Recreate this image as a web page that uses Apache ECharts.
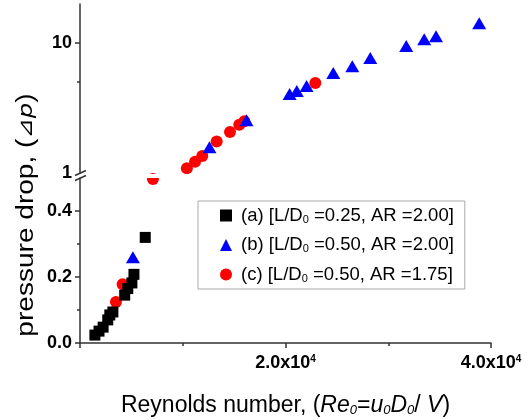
<!DOCTYPE html>
<html>
<head>
<meta charset="utf-8">
<script src="https://cdn.jsdelivr.net/npm/echarts@6/dist/echarts.min.js"></script>
<style>
  html, body { margin: 0; padding: 0; background: #ffffff; }
  #chart { width: 529px; height: 420px; }
</style>
</head>
<body>
<div id="chart"></div>
<script>
// Pressure drop vs Reynolds number for three orifice configurations
const reA = [1450, 1850, 2250, 2700, 2900, 3200, 4350, 4650, 5050, 5250, 6350];
const dpA = [0.024, 0.036, 0.048, 0.070, 0.085, 0.094, 0.145, 0.165, 0.182, 0.208, 0.320];

const reB = [5150, 12600, 16200, 20400, 21100, 22050, 24650, 26500, 28250, 31750, 33500, 34650, 38850];
const dpB = [0.26, 1.58, 2.55, 4.05, 4.27, 4.67, 5.88, 6.64, 7.67, 9.49, 10.7, 11.3, 14.2];

const reC = [3500, 4150, 7100, 10400, 11200, 11900, 13300, 14600, 15500, 16000, 22900];
const dpC = [0.124, 0.178, 0.497, 1.09, 1.22, 1.35, 1.75, 2.07, 2.35, 2.50, 4.93];

const seriesLabels = [
  '(a) [L/D{sub|0} =0.25, AR =2.00]',
  '(b) [L/D{sub|0} =0.50, AR =2.00]',
  '(c) [L/D{sub|0} =0.50, AR =1.75]'
];
const seriesSymbols = ['rect', 'triangle', 'circle'];
const seriesColors = ['#000000', '#0000ff', '#ff0000'];
const symbolSizes = [11, [14, 12], 12];

// Axis ranges and ticks: linear lower segment, log upper segment
const xRange = [0, 40000];
const xInterval = 20000;
const lowerRange = [0, 0.5];
const lowerTicks = [0, 0.2, 0.4];
const lowerMinorTicks = [0.1, 0.3];
const upperRange = [1, 20];
const upperLabels = [1, 10];
const upperTicks = [10];
const upperMinorTicks = [5];

const FONT = '"Liberation Sans", Arial, sans-serif';
const AXIS_COLOR = '#333333';

const seriesData = [
  reA.map((x, i) => [x, dpA[i]]),
  reB.map((x, i) => [x, dpB[i]]),
  reC.map((x, i) => [x, dpC[i]])
];

const chart = echarts.init(document.getElementById('chart'), null, { renderer: 'canvas' });

const axisLineStyle = { color: AXIS_COLOR, width: 1.5 };
const hiddenLine = { show: true, lineStyle: { color: AXIS_COLOR, width: 1.5, opacity: 0 } };

function yAxisBase(gridIndex, type, range) {
  return {
    gridIndex: gridIndex,
    type: type,
    position: 'left',
    offset: 0,
    min: range[0],
    max: range[1],
    splitLine: { show: false },
    minorSplitLine: { show: false }
  };
}

const tickLabelStyle = {
  fontFamily: FONT,
  fontSize: 18,
  fontWeight: 'bold',
  color: '#000000'
};

// Each segment has a main axis (line, major ticks, labels) and a companion axis for short minor ticks
const yAxes = [
  Object.assign(yAxisBase(0, 'value', lowerRange), {
    axisLine: { show: true, lineStyle: axisLineStyle },
    axisTick: { show: true, length: 5, customValues: lowerTicks, lineStyle: axisLineStyle },
    axisLabel: Object.assign({ customValues: lowerTicks, margin: 8,
      formatter: v => v.toFixed(1) }, tickLabelStyle)
  }),
  Object.assign(yAxisBase(0, 'value', lowerRange), {
    axisLine: hiddenLine,
    axisTick: { show: true, length: 3, customValues: lowerMinorTicks, lineStyle: axisLineStyle },
    axisLabel: { show: false }
  }),
  Object.assign(yAxisBase(1, 'log', upperRange), {
    logBase: 10,
    axisLine: { show: true, lineStyle: axisLineStyle },
    axisTick: { show: true, length: 5, customValues: upperTicks, lineStyle: axisLineStyle },
    axisLabel: Object.assign({ customValues: upperLabels, margin: 8,
      formatter: v => String(Math.round(v)) }, tickLabelStyle)
  }),
  Object.assign(yAxisBase(1, 'log', upperRange), {
    logBase: 10,
    axisLine: hiddenLine,
    axisTick: { show: true, length: 3, customValues: upperMinorTicks, lineStyle: axisLineStyle },
    axisLabel: { show: false }
  })
];

// Every series is drawn in both segments; each grid keeps only the points inside its range
const series = [];
seriesData.forEach((data, i) => {
  [[0, 0], [1, 2]].forEach(([xi, yi]) => {
    series.push({
      type: 'scatter',
      name: seriesLabels[i],
      xAxisIndex: xi,
      yAxisIndex: yi,
      data: data,
      clip: true,
      symbol: seriesSymbols[i],
      symbolSize: symbolSizes[i],
      itemStyle: { color: seriesColors[i], opacity: 1 },
      emphasis: { disabled: true },
      z: 3 - i
    });
  });
});

chart.setOption({
  animation: false,
  backgroundColor: '#ffffff',
  grid: [
    { left: 80, right: 38, top: 178, bottom: 77 },
    { left: 80, right: 38, top: 4, height: 169 }
  ],
  xAxis: [
    {
      gridIndex: 0,
      type: 'value',
      min: xRange[0],
      max: xRange[1],
      interval: xInterval,
      axisLine: { show: true, onZero: false, lineStyle: axisLineStyle },
      axisTick: { show: true, length: 5, lineStyle: axisLineStyle },
      minorTick: { show: true, splitNumber: 2, length: 3, lineStyle: axisLineStyle },
      splitLine: { show: false },
      minorSplitLine: { show: false },
      axisLabel: Object.assign({
        margin: 11,
        formatter: v => v === 0 ? '' : (v / 10000).toFixed(1) + 'x10{sup|4}',
        rich: {
          sup: { fontFamily: FONT, fontSize: 10, fontWeight: 'bold', color: '#000', verticalAlign: 'top' }
        }
      }, tickLabelStyle),
      name: 'Reynolds number, ({i|Re}{isub|0}={i|u}{isub|0}{i|D}{isub|0}/ {i|V})',
      nameLocation: 'middle',
      nameGap: 51,
      nameTextStyle: {
        fontFamily: FONT,
        fontSize: 23,
        color: '#000',
        rich: {
          i: { fontFamily: FONT, fontSize: 23, fontStyle: 'italic', color: '#000' },
          isub: { fontFamily: FONT, fontSize: 13, fontStyle: 'italic', color: '#000', verticalAlign: 'bottom' }
        }
      }
    },
    {
      gridIndex: 1,
      type: 'value',
      min: xRange[0],
      max: xRange[1],
      show: false
    }
  ],
  yAxis: yAxes,
  legend: {
    orient: 'vertical',
    left: 198,
    top: 201,
    padding: [5, 11, 5, 22],
    itemGap: 10.5,
    itemWidth: 12,
    itemHeight: 12,
    borderColor: '#aaaaaa',
    borderWidth: 1,
    backgroundColor: '#ffffff',
    data: seriesLabels.map((name, i) => ({ name: name, icon: seriesSymbols[i] })),
    selectedMode: false,
    textStyle: {
      fontFamily: FONT,
      fontSize: 18.5,
      color: '#000',
      padding: [0, 0, 0, 4],
      rich: {
        sub: { fontFamily: FONT, fontSize: 11, color: '#000', verticalAlign: 'bottom' }
      }
    }
  },
  series: series
});

// Axis-break decorations (gap band and "//" marks on the y axis) plus the y axis title
function drawDecorations() {
  const lowTop = chart.convertToPixel({ xAxisIndex: 0, yAxisIndex: 0 }, [xRange[0], lowerRange[1]]);
  const upBottom = chart.convertToPixel({ xAxisIndex: 1, yAxisIndex: 2 }, [xRange[0], upperRange[0]]);
  const xRight = chart.convertToPixel({ xAxisIndex: 0, yAxisIndex: 0 }, [xRange[1], 0])[0];
  const x0 = lowTop[0];
  const mark = (y) => ({
    type: 'line',
    z: 100,
    shape: { x1: x0 - 5, y1: y + 2.5, x2: x0 + 6, y2: y - 2.5 },
    style: { stroke: AXIS_COLOR, lineWidth: 1.5 }
  });
  chart.setOption({
    graphic: [
      {
        type: 'rect',
        z: 50,
        shape: { x: x0 + 1, y: upBottom[1] + 1, width: xRight - x0, height: lowTop[1] - upBottom[1] - 1 },
        style: { fill: '#ffffff' }
      },
      mark(upBottom[1]),
      mark(lowTop[1]),
      {
        type: 'text',
        z: 100,
        x: 27,
        y: 215,
        rotation: Math.PI / 2,
        scaleX: 1.22,
        style: {
          text: 'pressure drop, ({i|⊿p})',
          fontFamily: FONT,
          fontSize: 23,
          fill: '#000',
          align: 'center',
          verticalAlign: 'middle',
          rich: {
            i: { fontFamily: '"DejaVu Sans", sans-serif', fontSize: 20, fontStyle: 'italic', fill: '#000' }
          }
        }
      }
    ]
  });
}
drawDecorations();
</script>
</body>
</html>
